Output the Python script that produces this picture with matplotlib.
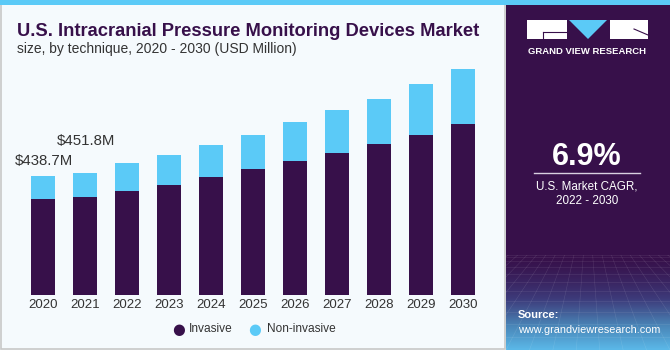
import numpy as np
import matplotlib
matplotlib.use("Agg")
import matplotlib.pyplot as plt
from matplotlib.patches import Rectangle, Polygon
from matplotlib.colors import LinearSegmentedColormap

# data (USD Million)
years = ['2020', '2021', '2022', '2023', '2024', '2025', '2026', '2027', '2028', '2029', '2030']
invasive = [352.8, 361.3, 384.6, 405.6, 434.0, 463.5, 493.0, 522.4, 555.6, 588.8, 629.4]
non_invasive = [85.9, 90.5, 101.0, 111.7, 120.2, 127.5, 145.0, 159.7, 168.2, 189.2, 202.8]
labels = {0: '$438.7M', 1: '$451.8M'}

PURPLE = '#37104a'
BLUE = '#5bcaf7'
BG = '#f5fafd'
W, H = 670, 350

plt.rcParams['font.family'] = ['Liberation Sans', 'DejaVu Sans']

fig = plt.figure(figsize=(W / 100, H / 100), dpi=100)
fig.patch.set_facecolor(BG)

def fx(px):
    return px / W

def fy(py):
    return 1 - py / H

# left panel border
fig.add_artist(Rectangle((fx(0.5), fy(348.5)), fx(504), 348 / H, transform=fig.transFigure,
                         facecolor=BG, edgecolor='#c8c8c8', lw=1.2, zorder=0))
# top stripe
fig.add_artist(Rectangle((0, fy(5)), 1, 5 / H, transform=fig.transFigure,
                         facecolor=BLUE, edgecolor='none', zorder=1))
# right panel
fig.add_artist(Rectangle((fx(506), 0), fx(W - 506), fy(5), transform=fig.transFigure,
                         facecolor=PURPLE, edgecolor='none', zorder=1))
# bottom gradient of right panel
gax = fig.add_axes([fx(506), 0, fx(W - 506), 95 / H], zorder=2)
cmap = LinearSegmentedColormap.from_list('g', [PURPLE, '#3d3a7a', '#4a86b8', '#5bb8e8'])
grad = np.linspace(0, 1, 100).reshape(-1, 1)
gax.imshow(grad ** 1.4, aspect='auto', cmap=cmap, origin='upper', extent=[0, 1, 0, 1])
for k in np.linspace(-1, 2, 22):
    gax.plot([k, 0.5 + (k - 0.5) * 0.4], [0, 1], color='white', lw=0.4, alpha=0.12)
for k in np.linspace(0, 1, 12) ** 1.6:
    gax.axhline(1 - k, color='white', lw=0.4, alpha=0.12)
gax.set_xlim(0, 1)
gax.set_ylim(0, 1)
gax.axis('off')

# main chart
ax = fig.add_axes([fx(22), 55 / H, fx(462), 244 / H], zorder=2)
ax.set_facecolor('none')
x = np.arange(len(years))
ax.bar(x, invasive, width=0.58, color=PURPLE, label='Invasive')
ax.bar(x, non_invasive, width=0.58, bottom=invasive, color=BLUE, label='Non-invasive')
ax.set_xlim(-0.5, len(years) - 0.5)
ax.set_ylim(0, 900)
ax.set_xticks(x)
ax.set_xticklabels(years, fontsize=9.5, color='#333333')
ax.tick_params(axis='x', length=0, pad=3)
ax.set_yticks([])
for s in ax.spines.values():
    s.set_visible(False)

fig.text(fx(15), fy(160.5), labels[0], fontsize=10.8, color='#333333', va='center', ha='left')
fig.text(fx(57), fy(140.5), labels[1], fontsize=10.8, color='#333333', va='center', ha='left')

# legend
fig.text(fx(178.7), fy(329.3), '\u25cf', fontsize=10.5, color=PURPLE, ha='center', va='center',
         family='DejaVu Sans')
fig.text(fx(189), fy(329.3), 'Invasive', fontsize=8.6, color='#333333', ha='left', va='center')
fig.text(fx(255), fy(329.3), '\u25cf', fontsize=10.5, color=BLUE, ha='center', va='center',
         family='DejaVu Sans')
fig.text(fx(266.5), fy(329.3), 'Non-invasive', fontsize=8.6, color='#333333', ha='left', va='center')

# titles
fig.text(fx(17), fy(36), 'U.S. Intracranial Pressure Monitoring Devices Market', fontsize=13.2,
         fontweight='bold', color=PURPLE, ha='left', va='baseline')
fig.text(fx(17), fy(53), 'size, by technique, 2020 - 2030 (USD Million)', fontsize=10,
         color='#333333', ha='left', va='baseline')

# logo
fig.add_artist(Rectangle((fx(527), fy(39)), fx(40), 19 / H, transform=fig.transFigure,
                         facecolor='white', edgecolor='none', zorder=3))
fig.add_artist(Rectangle((fx(610), fy(39)), fx(38), 19 / H, transform=fig.transFigure,
                         facecolor='white', edgecolor='none', zorder=3))
fig.add_artist(Polygon([(fx(569), fy(20)), (fx(607), fy(20)), (fx(588), fy(39))],
                       closed=True, transform=fig.transFigure, facecolor=BLUE, edgecolor='none',
                       zorder=3))
fig.add_artist(plt.Line2D([fx(543), fx(567)], [fy(32), fy(32)], transform=fig.transFigure,
                          color=PURPLE, lw=0.8, zorder=4))
fig.add_artist(plt.Line2D([fx(543), fx(543)], [fy(32), fy(39)], transform=fig.transFigure,
                          color=PURPLE, lw=0.8, zorder=4))
fig.add_artist(plt.Line2D([fx(634), fx(648)], [fy(29), fy(35)], transform=fig.transFigure,
                          color=PURPLE, lw=0.8, zorder=4))
fig.text(fx(587), fy(51), 'GRAND VIEW RESEARCH', fontsize=6.8, fontweight='bold', color='white',
         ha='center', va='center')

# CAGR
fig.text(fx(587), fy(157), '6.9%', fontsize=22, fontweight='bold', color='white',
         ha='center', va='center')
fig.add_artist(plt.Line2D([fx(534), fx(640)], [fy(173.3), fy(173.3)], transform=fig.transFigure,
                          color='#d8d0e0', lw=1, zorder=3))
fig.text(fx(587), fy(186), 'U.S. Market CAGR,', fontsize=8.4, color='white', ha='center', va='center')
fig.text(fx(587), fy(201.5), '2022 - 2030', fontsize=8.4, color='white', ha='center', va='center')

fig.text(fx(518), fy(315), 'Source:', fontsize=8, fontweight='bold', color='white',
         ha='left', va='center', zorder=5)
fig.text(fx(518), fy(330), 'www.grandviewresearch.com', fontsize=7.8, color='white',
         ha='left', va='center', zorder=5)

fig.savefig('out.png', dpi=100, facecolor=fig.get_facecolor())
